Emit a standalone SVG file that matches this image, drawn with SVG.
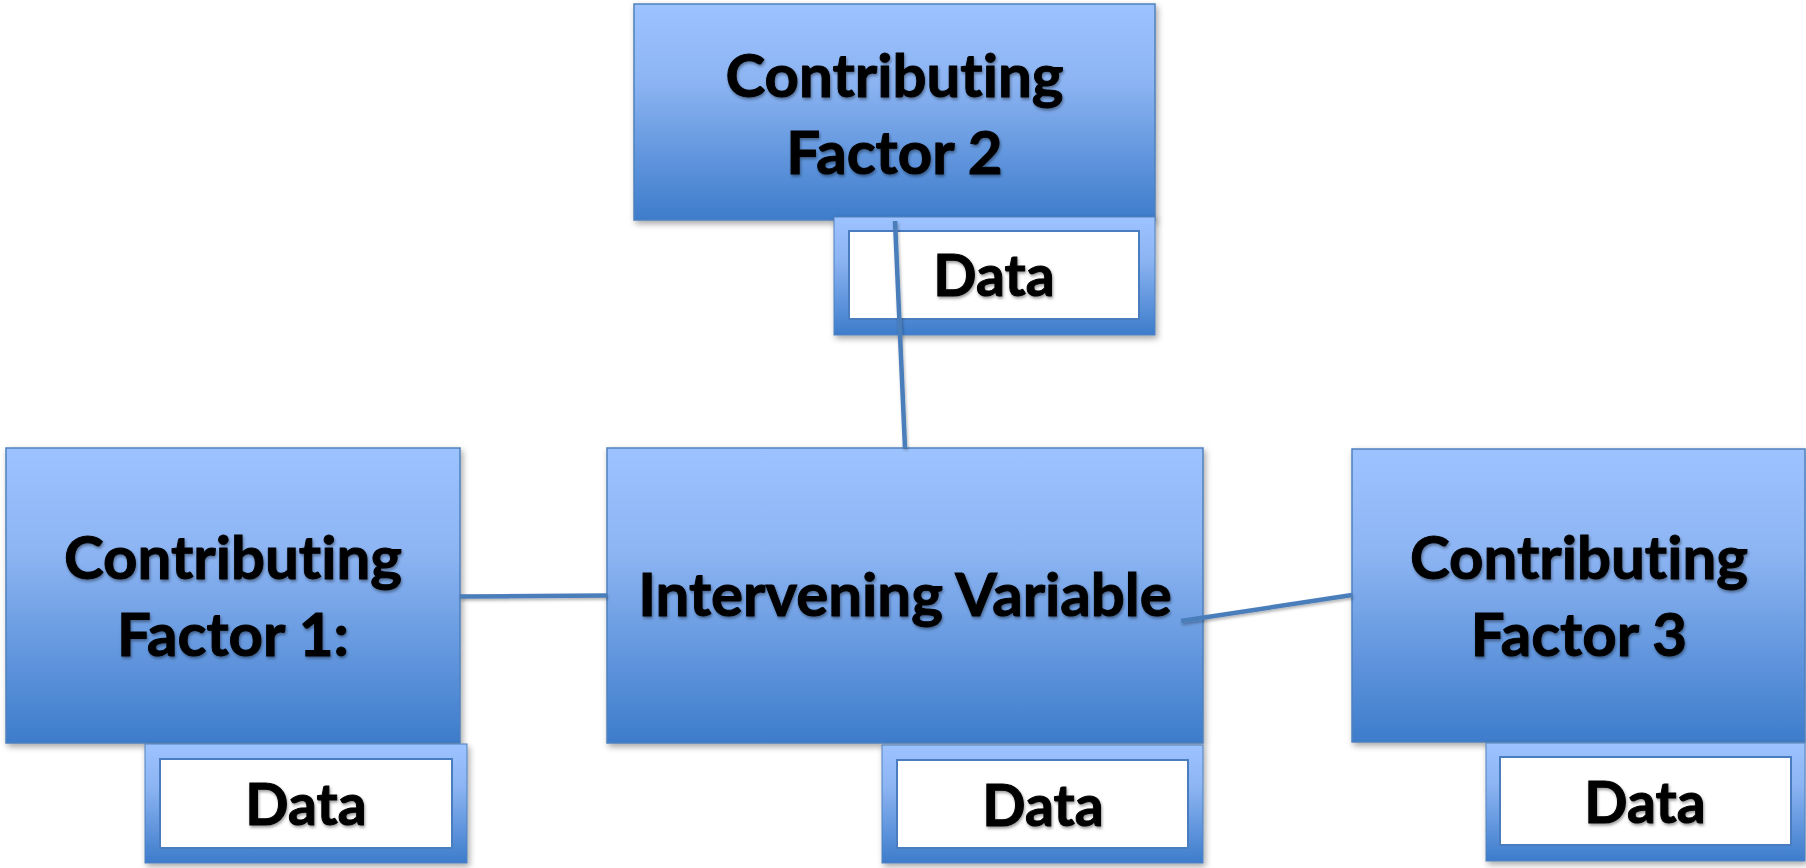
<svg xmlns="http://www.w3.org/2000/svg" width="1806" height="868" viewBox="0 0 1806 868">
  <style>
    .box { fill: url(#g); stroke: #4f81bd; stroke-width: 1.5; filter: url(#sh); }
    .frame { fill: url(#g); stroke: #4f81bd; stroke-width: 1; filter: url(#sh); }
    .inner { fill: #ffffff; stroke: #4a7cc0; stroke-width: 2; }
    .t { font-family: Lato, "Open Sans", sans-serif; font-weight: 700; font-size: 60px; fill: #000000; stroke: #000000; stroke-width: 1; text-anchor: middle; font-variant-ligatures: none; filter: url(#tsh); }
    .d { font-size: 57px; }
    .conn { stroke: #4a7ebb; stroke-width: 4.5; fill: none; filter: url(#lsh); }
  </style>
  <defs>
    <linearGradient id="g" x1="0" y1="0" x2="0" y2="1">
      <stop offset="0" stop-color="#9dc3ff"/>
      <stop offset="0.35" stop-color="#8db5f3"/>
      <stop offset="1" stop-color="#3d7ccb"/>
    </linearGradient>
    <filter id="sh" x="-5%" y="-5%" width="115%" height="115%">
      <feDropShadow dx="2" dy="3" stdDeviation="3" flood-color="#000" flood-opacity="0.35"/>
    </filter>
    <filter id="tsh" x="-10%" y="-20%" width="120%" height="150%">
      <feDropShadow dx="1" dy="2" stdDeviation="1.5" flood-color="#000" flood-opacity="0.4"/>
    </filter>
    <filter id="lsh" filterUnits="userSpaceOnUse" x="0" y="0" width="1806" height="868">
      <feDropShadow dx="1" dy="2" stdDeviation="1.5" flood-color="#000" flood-opacity="0.3"/>
    </filter>
  </defs>

  <g id="cf2">
    <rect class="box" x="634" y="4" width="521" height="216"/>
    <text class="t" x="894.5" y="97">Contributing</text>
    <text class="t" x="894.5" y="174">Factor 2</text>
  </g>
  <g id="cf2-data">
    <rect class="frame" x="834" y="217" width="321" height="118"/>
    <rect class="inner" x="849" y="231" width="290" height="88"/>
    <text class="t d" x="994" y="296">Data</text>
  </g>

  <g id="cf1">
    <rect class="box" x="6" y="448" width="454" height="295"/>
    <text class="t" x="233" y="579">Contributing</text>
    <text class="t" x="233" y="656">Factor 1:</text>
  </g>
  <g id="cf1-data">
    <rect class="frame" x="145" y="744" width="322" height="119"/>
    <rect class="inner" x="160" y="759" width="292" height="89"/>
    <text class="t d" x="306" y="825">Data</text>
  </g>

  <g id="iv">
    <rect class="box" x="607" y="448" width="596" height="295"/>
    <text class="t" x="905" y="616">Intervening Variable</text>
  </g>
  <g id="iv-data">
    <rect class="frame" x="882" y="745" width="321" height="118"/>
    <rect class="inner" x="897" y="760" width="291" height="88"/>
    <text class="t d" x="1043" y="826">Data</text>
  </g>

  <g id="cf3">
    <rect class="box" x="1352" y="449" width="453" height="293"/>
    <text class="t" x="1579" y="579">Contributing</text>
    <text class="t" x="1579" y="656">Factor 3</text>
  </g>
  <g id="cf3-data">
    <rect class="frame" x="1486" y="743" width="319" height="118"/>
    <rect class="inner" x="1500" y="757" width="291" height="88"/>
    <text class="t d" x="1645" y="823">Data</text>
  </g>

  <g id="connectors">
    <line class="conn" x1="460" y1="596.5" x2="607" y2="595.5"/>
    <line class="conn" x1="895" y1="221" x2="905" y2="448"/>
    <line class="conn" x1="1181" y1="621" x2="1352" y2="595"/>
  </g>
</svg>
